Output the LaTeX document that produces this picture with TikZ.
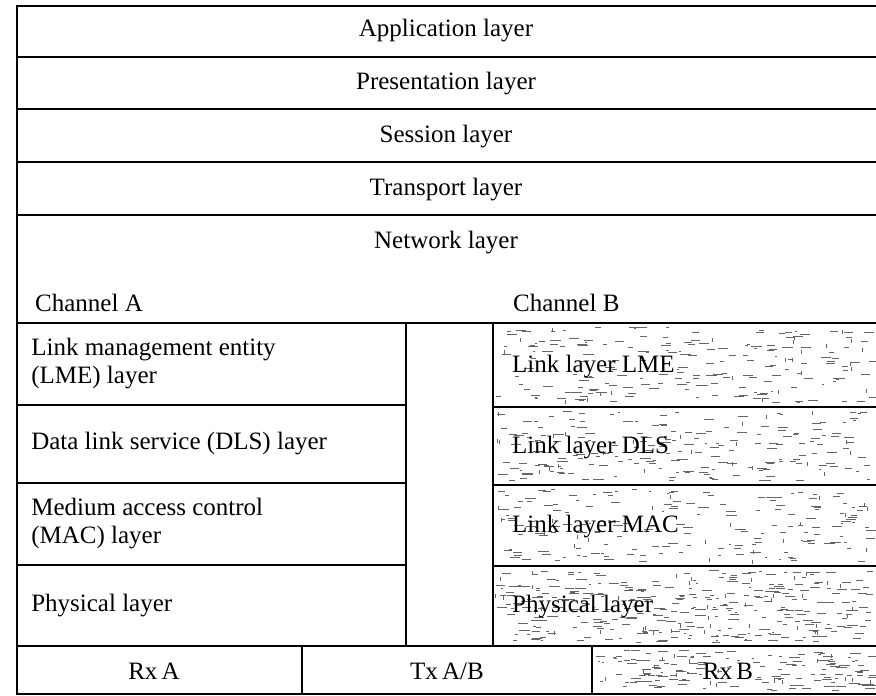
\documentclass[tikz,border=0pt]{standalone}
\usepackage{fontspec}
\setmainfont{Liberation Serif}
\usetikzlibrary{fit}

\tikzset{
  x=1pt, y=-1pt,
  box/.style={draw=black, line width=1.8pt, inner sep=0pt},
  lbl/.style={font=\fontsize{25}{28}\selectfont, inner sep=0pt, align=left},
  speck/.style={draw=black!60, line width=0.7pt},
}

% scattered grey dashes that give a box its scanned-tone look
% #1,#2 = top-left, #3,#4 = bottom-right, #5 = number of dashes
\newcommand\speckles[5]{%
  \foreach \k in {1,...,#5}{%
    \pgfmathsetmacro\sx{#1+2+rnd*(#3-#1-8)}%
    \pgfmathsetmacro\sy{#2+4+rnd*(#4-#2-8)}%
    \pgfmathsetmacro\sl{2+rnd*9}%
    \draw[speck] (\sx,\sy) -- ++(\sl,0);
  }%
  \foreach \k in {1,...,\numexpr#5/8\relax}{%
    \pgfmathsetmacro\sx{#1+2+rnd*(#3-#1-6)}%
    \pgfmathsetmacro\sy{#2+4+rnd*(#4-#2-10)}%
    \draw[speck] (\sx,\sy) -- ++(0,4);
  }%
}

\begin{document}
\begin{tikzpicture}
\useasboundingbox (0,0) rectangle (876,696);
\clip (0,0) rectangle (876,696);
\fill[white] (0,0) rectangle (876,696);
\pgfmathsetseed{4711}

% shaded tone of the channel B stack and the Rx B cell
\speckles{493}{323}{876}{407}{190}
\speckles{493}{407}{876}{485}{190}
\speckles{493}{485}{876}{566}{170}
\speckles{493}{566}{876}{646}{320}
\speckles{592}{646}{876}{694}{150}

% upper layers (open at the right edge)
\node[box, fit={(17,6) (884,57)}]    (app)   {};
\node[box, fit={(17,57) (884,109)}]  (pres)  {};
\node[box, fit={(17,109) (884,162)}] (sess)  {};
\node[box, fit={(17,162) (884,215)}] (trans) {};
\node[box, fit={(17,215) (884,323)}] (net)   {};

\node[lbl] (tapp)   at (446,31)  {Application layer};
\node[lbl] (tpres)  at (446,84)  {Presentation layer};
\node[lbl] (tsess)  at (446,137) {Session layer};
\node[lbl] (ttrans) at (446,190) {Transport layer};
\node[lbl] (tnet)   at (446,243) {Network layer};
\node[lbl, anchor=west] (chA) at (35,303)  {Channel A};
\node[lbl, anchor=west] (chB) at (513,303) {Channel B};

% channel A stack
\node[box, fit={(17,323) (406,405)}]  (lmeA) {};
\node[box, fit={(17,405) (406,483)}]  (dlsA) {};
\node[box, fit={(17,483) (406,565)}]  (macA) {};
\node[box, fit={(17,565) (406,646)}]  (phyA) {};

\node[lbl, anchor=west] (tlmeA) at ([xshift=15pt]lmeA.west) {Link management entity\\(LME) layer};
\node[lbl, anchor=west] (tdlsA) at ([xshift=15pt]dlsA.west) {Data link service (DLS) layer};
\node[lbl, anchor=west] (tmacA) at ([xshift=15pt]macA.west) {Medium access control\\(MAC) layer};
\node[lbl, anchor=west] (tphyA) at ([xshift=15pt]phyA.west) {Physical layer};

% empty gap between the two channels
\node[box, fit={(406,323) (493,646)}] (gap) {};

% channel B stack
\node[box, fit={(493,323) (884,407)}] (lmeB) {};
\node[box, fit={(493,407) (884,485)}] (dlsB) {};
\node[box, fit={(493,485) (884,566)}] (macB) {};
\node[box, fit={(493,566) (884,646)}] (phyB) {};

\node[lbl, anchor=west] (tlmeB) at (512,367) {Link layer LME};
\node[lbl, anchor=west] (tdlsB) at (512,448) {Link layer DLS};
\node[lbl, anchor=west] (tmacB) at (512,527) {Link layer MAC};
\node[lbl, anchor=west] (tphyB) at (512,607) {Physical layer};

% transceivers
\node[box, fit={(17,646) (302,694)}]  (rxA)  {};
\node[box, fit={(302,646) (592,694)}] (txAB) {};
\node[box, fit={(592,646) (884,694)}] (rxB)  {};

\node[lbl] (trxA)  at (154,671) {Rx\,A};
\node[lbl] (ttxAB) at (447,671) {Tx\,A/B};
\node[lbl] (trxB)  at (728,671) {Rx\,B};
\end{tikzpicture}
\end{document}
